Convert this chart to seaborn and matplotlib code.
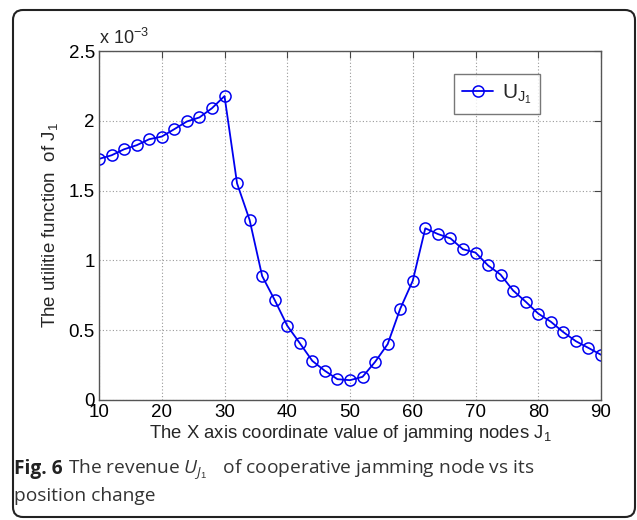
import numpy as np
import pandas as pd
import matplotlib
matplotlib.use("Agg")
import matplotlib.pyplot as plt
from matplotlib.patches import FancyBboxPatch
import seaborn as sns

# Jammer x-coordinate and its utility (in units of 1e-3)
x_position = [10, 12, 14, 16, 18, 20, 22, 24, 26, 28,
              30, 32, 34, 36, 38, 40, 42, 44, 46, 48,
              50, 52, 54, 56, 58, 60, 62, 64, 66, 68,
              70, 72, 74, 76, 78, 80, 82, 84, 86, 88, 90]
utility_e3 = [1.727, 1.753, 1.796, 1.825, 1.868, 1.887, 1.940, 1.995, 2.024, 2.090,
              2.177, 1.552, 1.290, 0.888, 0.716, 0.532, 0.407, 0.280, 0.209, 0.149,
              0.142, 0.166, 0.273, 0.400, 0.653, 0.854, 1.230, 1.189, 1.158, 1.080,
              1.056, 0.964, 0.898, 0.784, 0.704, 0.619, 0.561, 0.486, 0.421, 0.373, 0.324]
x_ticks = [10, 20, 30, 40, 50, 60, 70, 80, 90]
y_ticks = [0, 0.5, 1, 1.5, 2, 2.5]
y_tick_labels = ["0", "0.5", "1", "1.5", "2", "2.5"]

df = pd.DataFrame({"x": x_position, "u": utility_e3})

sns.set_theme(style="white")
plt.rcParams["font.family"] = ["Liberation Sans", "DejaVu Sans"]
plt.rcParams["mathtext.fontset"] = "custom"
plt.rcParams["mathtext.rm"] = "Liberation Sans"
plt.rcParams["mathtext.it"] = "Open Sans:italic"
plt.rcParams["mathtext.bf"] = "Liberation Sans:bold"

fig = plt.figure(figsize=(6.37, 5.2), dpi=100)
ax = fig.add_axes([99 / 637, 1 - 400 / 520, (601 - 99) / 637, (400 - 51) / 520])

sns.lineplot(data=df, x="x", y="u", ax=ax, color="#0000f0", linewidth=1.3,
             marker="o", markersize=8, markerfacecolor="none",
             markeredgecolor="#0000f0", markeredgewidth=1.1,
             label=r"$\mathrm{U_{J_1}}$")

ax.set_xlim(10, 90)
ax.set_ylim(0, 2.5)
ax.set_xticks(x_ticks)
ax.set_yticks(y_ticks)
ax.set_yticklabels(y_tick_labels)
ax.grid(True, linestyle=(0, (1, 2)), color="#9a9a9a", linewidth=0.8)
ax.tick_params(direction="in", length=5, width=0.8, colors="#444444",
               labelcolor="black", labelsize=13.5, top=True, right=True, pad=3)
for s in ax.spines.values():
    s.set_color("#555555")
    s.set_linewidth(1.0)

ax.set_xlabel(r"The X axis coordinate value of jamming nodes J$_1$", fontsize=13.3, labelpad=1)
ax.set_ylabel(r"The utilitie function  of J$_1$", fontsize=13.5, labelpad=6)
ax.text(0.0, 1.01, r"x 10$^{-3}$", transform=ax.transAxes, fontsize=13,
        ha="left", va="bottom")

leg = ax.legend(loc="upper left", bbox_to_anchor=(0.707, 0.934), borderaxespad=0,
                fancybox=False, frameon=True, edgecolor="#555555", fontsize=15,
                handlelength=1.5, borderpad=0.4, handletextpad=0.4)
leg.get_frame().set_linewidth(1.0)

# Caption beneath the plot
cap_font = ["Open Sans", "DejaVu Sans"]
cap_size = 13.8
bold = fig.text(14 / 637, 1 - 474 / 520, "Fig. 6", fontsize=cap_size,
                fontweight="bold", family=cap_font, color="#222222",
                ha="left", va="baseline")
fig.canvas.draw()
bb = bold.get_window_extent()
fig.text((bb.x1 + 5) / 637, 1 - 474 / 520,
         r"The revenue $U_{J_1}\ \ $ of cooperative jamming node vs its",
         fontsize=cap_size, family=cap_font, color="#333333",
         ha="left", va="baseline")
fig.text(14 / 637, 1 - 501 / 520, "position change", fontsize=cap_size,
         family=cap_font, color="#333333", ha="left", va="baseline")

# Rounded frame around the figure
frame = FancyBboxPatch((13, 3), 622, 507, boxstyle="round,pad=0,rounding_size=10",
                       transform=None, fill=False, edgecolor="#222222", linewidth=1.5)
fig.patches.append(frame)

fig.savefig("out.png", dpi=100)
